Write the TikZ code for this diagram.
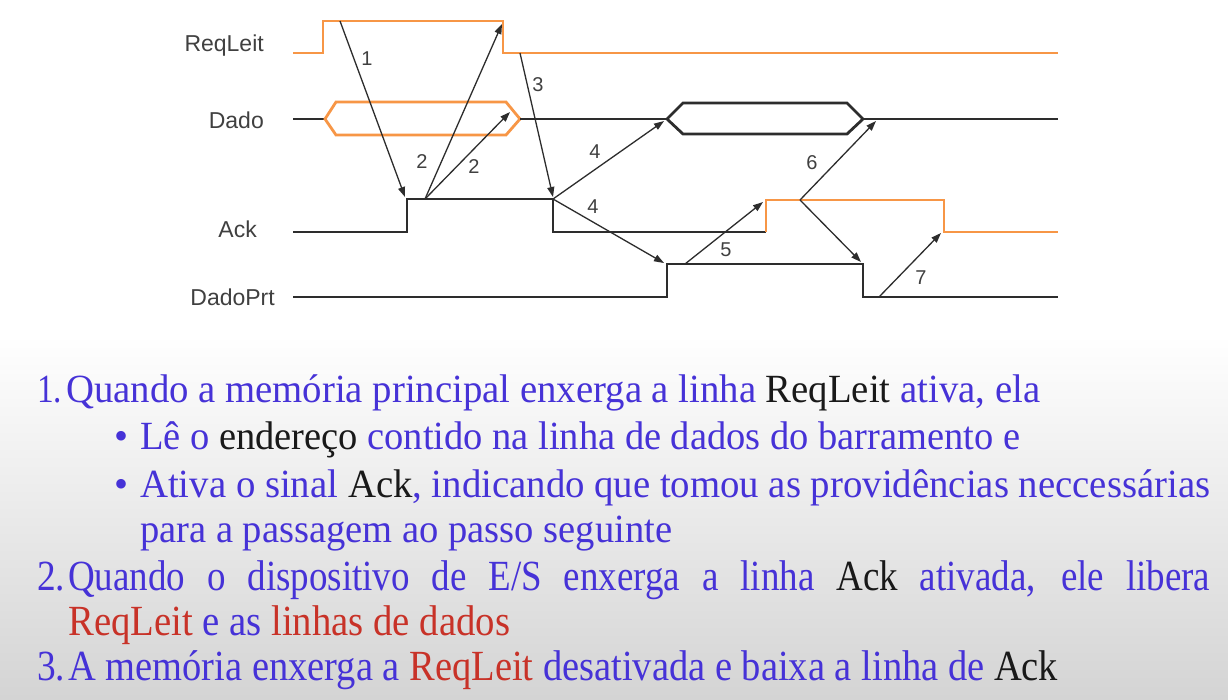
\documentclass[tikz,border=0pt]{standalone}
\usepackage{fontspec}
\setmainfont{Liberation Serif}
\newfontfamily\arialf{Liberation Sans}
\usetikzlibrary{arrows.meta}
\definecolor{sigorange}{RGB}{247,150,70}
\definecolor{sigdark}{RGB}{45,45,45}
\definecolor{txtblue}{RGB}{70,50,215}
\definecolor{txtred}{RGB}{200,50,40}
\definecolor{txtblack}{RGB}{25,25,25}
\definecolor{bggray}{RGB}{212,212,212}
\begin{document}
\begin{tikzpicture}[x=1pt,y=-1pt,
  sig/.style={line width=2.8pt, draw=sigdark, line join=miter},
  sigo/.style={line width=2.8pt, draw=sigorange, line join=miter},
  evt/.style={line width=1.3pt, draw=sigdark, -{Triangle[length=10pt,width=7pt]}},
  lbl/.style={font=\arialf\fontsize{23}{26}\selectfont, text=black!75, anchor=east, inner sep=0pt},
  num/.style={font=\arialf\fontsize{20}{22}\selectfont, text=black!75, inner sep=0pt},
  txt/.style={anchor=base west, inner sep=0pt, font=\fontsize{40}{44}\selectfont, text=txtblue},
  txtc/.style={anchor=base west, inner sep=0pt, font=\fontsize{43}{46}\selectfont, text=txtblue}]
\useasboundingbox (0,0) rectangle (1228,699);
\fill[white] (0,0) rectangle (1228,699);
\shade[top color=white, bottom color=bggray] (0,335) rectangle (1228,699);

% signal labels
\node[lbl] (lreq) at (264,46) {ReqLeit};
\node[lbl] (ldado) at (264,120) {Dado};
\node[lbl] (lack) at (257,229) {Ack};
\node[lbl] (lprt) at (275,297) {DadoPrt};

% ReqLeit
\draw[sigo] (293,53) -- (323,53) -- (323,21) -- (503,21) -- (503,53) -- (1058,53);
% Dado
\draw[sig] (293,119) -- (325,119);
\draw[sigo] (325,119) -- (336,102) -- (506,102) -- (520,119) -- (506,135) -- (336,135) -- cycle;
\draw[sig] (520,119) -- (667,119);
\draw[sig] (667,119) -- (683,103) -- (847,103) -- (863,119) -- (847,134) -- (683,134) -- cycle;
\draw[sig] (863,119) -- (1058,119);
% Ack
\draw[sig] (293,232) -- (407,232) -- (407,199) -- (553,199) -- (553,232) -- (766,232);
\draw[sigo] (766,232) -- (766,200) -- (944,200) -- (944,232) -- (1058,232);
% DadoPrt
\draw[sig] (293,297) -- (667,297) -- (667,264) -- (863,264) -- (863,297) -- (1058,297);

% event points
\coordinate (a1s) at (340,21);   \coordinate (a1e) at (405,197);
\coordinate (a2s) at (425,199);  \coordinate (a2e) at (502,24);
\coordinate (a2f) at (510,112);
\coordinate (a3s) at (520,53);   \coordinate (a3e) at (553,197);
\coordinate (a4s) at (553,199);  \coordinate (a4e) at (664,121);
\coordinate (a4f) at (664,263);
\coordinate (a5s) at (685,264);  \coordinate (a5e) at (763,202);
\coordinate (a6s) at (800,200);  \coordinate (a6e) at (876,121);
\coordinate (a6f) at (861,262);
\coordinate (a7s) at (879,297);  \coordinate (a7e) at (941,233);

\draw[evt] (a1s) -- (a1e);
\draw[evt] (a2s) -- (a2e);
\draw[evt] (a2s) -- (a2f);
\draw[evt] (a3s) -- (a3e);
\draw[evt] (a4s) -- (a4e);
\draw[evt] (a4s) -- (a4f);
\draw[evt] (a5s) -- (a5e);
\draw[evt] (a6s) -- (a6e);
\draw[evt] (a6s) -- (a6f);
\draw[evt] (a7s) -- (a7e);

\node[num] (n1) at (367,59) {1};
\node[num] (n2a) at (422,162) {2};
\node[num] (n2b) at (474,167) {2};
\node[num] (n3) at (538,85) {3};
\node[num] (n4a) at (595,152) {4};
\node[num] (n4b) at (593,207) {4};
\node[num] (n5) at (726,250) {5};
\node[num] (n6) at (812,163) {6};
\node[num] (n7) at (921,278) {7};

% text
\node[txt] (t1n) at (37,402) {\resizebox{25pt}{\height}{1.}};
\node[txt] (t1) at (66,402) {\resizebox{974pt}{\height}{Quando a memória principal enxerga a linha \textcolor{txtblack}{ReqLeit} ativa, ela}};
\node[txt] (t2b) at (114,449) {\textbullet};
\node[txt] (t2) at (140,449) {\resizebox{880pt}{\height}{Lê o \textcolor{txtblack}{endereço} contido na linha de dados do barramento e}};
\node[txt] (t3b) at (114,497) {\textbullet};
\node[txt] (t3) at (140,497) {\resizebox{1070pt}{\height}{Ativa o sinal \textcolor{txtblack}{Ack}, indicando que tomou as providências neccessárias}};
\node[txt] (t4) at (140,542) {\resizebox{532pt}{\height}{para a passagem ao passo seguinte}};
\node[txtc] (t5n) at (37,590) {\resizebox{28pt}{\height}{2.}};
\node[txtc] (t5) at (68,590) {\scalebox{0.86}[1]{\makebox[1328pt][s]{Quando o dispositivo de E/S enxerga a linha \textcolor{txtblack}{Ack} ativada, ele libera}}};
\node[txtc] (t6) at (68,635) {\resizebox{442pt}{\height}{\textcolor{txtred}{ReqLeit} e as \textcolor{txtred}{linhas de dados}}};
\node[txtc] (t7n) at (37,680) {\resizebox{28pt}{\height}{3.}};
\node[txtc] (t7) at (68,680) {\resizebox{990pt}{\height}{A memória enxerga a \textcolor{txtred}{ReqLeit} desativada e baixa a linha de \textcolor{txtblack}{Ack}}};
\end{tikzpicture}
\end{document}
